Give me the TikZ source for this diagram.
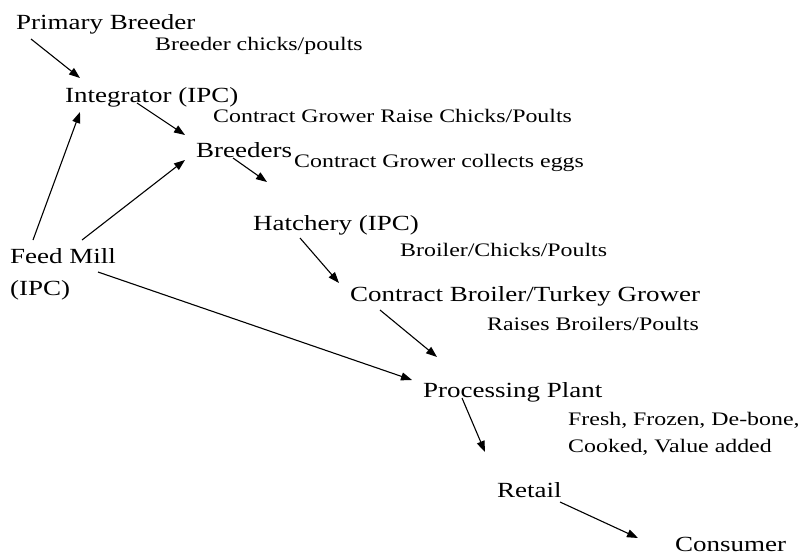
\documentclass[tikz,border=0pt]{standalone}
\usepackage{fontspec}
\setmainfont[FakeStretch=1.25]{Liberation Serif}
\usepackage{tikz}
\usetikzlibrary{calc,arrows.meta,positioning}

\begin{document}
\begin{tikzpicture}[x=1pt,y=-1pt,
  big/.style={anchor=base west, inner sep=0pt, font=\fontsize{21.6}{26}\selectfont},
  small/.style={anchor=base west, inner sep=0pt, font=\fontsize{19.1}{23}\selectfont},
  arr/.style={line width=1.1pt, -{Triangle[length=11pt,width=8pt]}}]
  \useasboundingbox (0,0) rectangle (802,558);
  % stages of the chain
  \node[big](pb) at (16,29) {Primary Breeder};
  \node[small](pbl) at (155,50) {Breeder chicks/poults};
  \node[big](ig) at (65,102) {Integrator (IPC)};
  \node[small](igl) at (213,122) {Contract Grower Raise Chicks/Poults};
  \node[big](br) at (196,157) {Breeders};
  \node[small](brl) at (294,167) {Contract Grower collects eggs};
  \node[big](ht) at (253,230) {Hatchery (IPC)};
  \node[small](htl) at (400,256) {Broiler/Chicks/Poults};
  \node[big](fm) at (10,263) {Feed Mill};
  \node[big](fmi) at (10,295) {(IPC)};
  \node[big](cg) at (350,301) {Contract Broiler/Turkey Grower};
  \node[small](cgl) at (487,330) {Raises Broilers/Poults};
  \node[big](pp) at (423,397) {Processing Plant};
  \node[small](ppl) at (568,425) {Fresh, Frozen, De-bone,};
  \node[small](ppm) at (568,452) {Cooked, Value added};
  \node[big](rt) at (497,497) {Retail};
  \node[big](cs) at (675,551) {Consumer};
  % flows
  \draw[arr] ($(pb.base west)+(15,10)$) -- ($(ig.base west)+(15,-24)$);
  \draw[arr] ($(ig.base west)+(72,1)$) -- ($(br.base west)+(-11,-22)$);
  \draw[arr] ($(fm.base west)+(23,-23)$) -- ($(ig.base west)+(15,10)$);
  \draw[arr] ($(fm.base west)+(72,-23)$) -- ($(br.base west)+(-11,3)$);
  \draw[arr] ($(br.base west)+(37,1)$) -- ($(ht.base west)+(14,-48)$);
  \draw[arr] ($(ht.base west)+(47,8)$) -- ($(cg.base west)+(-11,-18)$);
  \draw[arr] ($(fm.base west)+(88,9)$) -- ($(pp.base west)+(-11,-17)$);
  \draw[arr] ($(cg.base west)+(30,9)$) -- ($(pp.base west)+(14,-40)$);
  \draw[arr] ($(pp.base west)+(39,1)$) -- ($(rt.base west)+(-12,-45)$);
  \draw[arr] ($(rt.base west)+(63,5)$) -- ($(cs.base west)+(-37,-13)$);
\end{tikzpicture}
\end{document}
